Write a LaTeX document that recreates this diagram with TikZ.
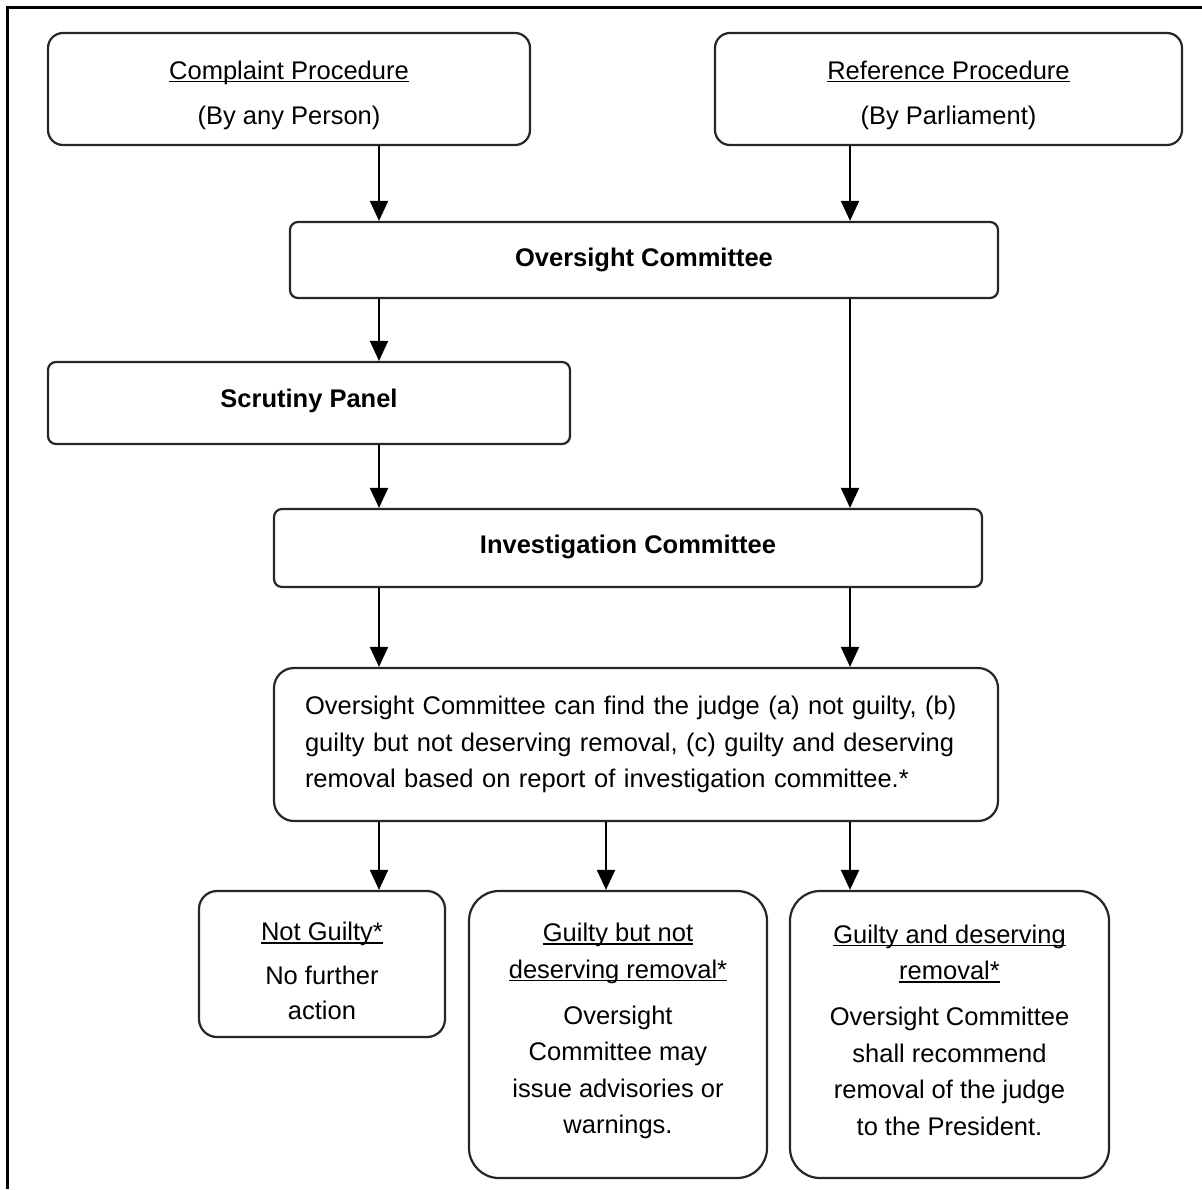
\documentclass[tikz,border=0pt]{standalone}
\usepackage{fontspec}
\setmainfont{Liberation Sans}
\usetikzlibrary{arrows.meta}
\newcommand\myul[1]{\setbox0\hbox{#1}\rlap{\rule[-1.6pt]{\wd0}{0.7pt}}\box0}
\begin{document}
\begin{tikzpicture}[x=0.5pt,y=-0.5pt,
  box/.style={draw=black!85,line width=1.1pt,inner sep=0pt},
  txt/.style={align=center,inner sep=0pt,font=\fontsize{12.75}{18.25}\selectfont},
  arr/.style={line width=1pt,-{Triangle[width=9pt,length=10pt]}},
]
\useasboundingbox (0,0) rectangle (1202,1189);
\draw[line width=1.5pt] (7,1189) -- (7,7) -- (1202,7);

\coordinate (xa) at (379,0);
\coordinate (xb) at (850,0);
\coordinate (xc) at (606,0);

% boxes
\node[box,rounded corners=7.5pt,minimum width=241pt,minimum height=56pt] (cp) at (289,89) {};
\node[box,rounded corners=7.5pt,minimum width=233.5pt,minimum height=56pt] (rp) at (948.5,89) {};
\node[box,rounded corners=4pt,minimum width=354pt,minimum height=38pt] (oc) at (644,260) {};
\node[box,rounded corners=4pt,minimum width=261pt,minimum height=41pt] (sp) at (309,403) {};
\node[box,rounded corners=4pt,minimum width=354pt,minimum height=39pt] (ic) at (628,548) {};
\node[box,rounded corners=10pt,minimum width=362pt,minimum height=76.5pt] (fb) at (636,744.5) {};
\node[box,rounded corners=9pt,minimum width=123pt,minimum height=73pt] (ng) at (322,964) {};
\node[box,rounded corners=15pt,minimum width=149pt,minimum height=143.5pt] (gn) at (618,1034.5) {};
\node[box,rounded corners=15pt,minimum width=159.5pt,minimum height=143.5pt] (gd) at (949.5,1034.5) {};

% texts
\node[txt] (cpt) at (289,95) {\myul{Complaint Procedure}\\[4.25pt](By any Person)};
\node[txt] (rpt) at (948.5,95) {\myul{Reference Procedure}\\[4.25pt](By Parliament)};
\node[txt,font=\fontsize{12.75}{18.25}\selectfont\bfseries] (oct) at (644,260) {Oversight Committee};
\node[txt,font=\fontsize{12.75}{18.25}\selectfont\bfseries] (spt) at (309,401) {Scrutiny Panel};
\node[txt,font=\fontsize{12.75}{18.25}\selectfont\bfseries] (ict) at (628,547) {Investigation Committee};
\node[txt,text width=331pt,align=left] (fbt) at (636,744.5)
  {Oversight Committee can find the judge (a) not guilty, (b)\\
   guilty but not deserving removal, (c) guilty and deserving\\
   removal based on report of investigation committee.*};
\node[txt] (ngt) at (322,971) {\myul{Not Guilty*}\\[3.75pt]No further\\[-0.5pt]action};
\node[txt] (gnt) at (618,1031) {\myul{Guilty but not}\\\myul{deserving removal*}\\[4.75pt]Oversight\\Committee may\\issue advisories or\\warnings.};
\node[txt] (gdt) at (949.5,1030) {\myul{Guilty and deserving}\\\myul{removal*}\\[4.75pt]Oversight Committee\\shall recommend\\removal of the judge\\to the President.};

% connectors
\draw[arr] (cp.south -| xa) -- (oc.north -| xa);
\draw[arr] (rp.south -| xb) -- (oc.north -| xb);
\draw[arr] (oc.south -| xa) -- (sp.north -| xa);
\draw[arr] (oc.south -| xb) -- (ic.north -| xb);
\draw[arr] (sp.south -| xa) -- (ic.north -| xa);
\draw[arr] (ic.south -| xa) -- (fb.north -| xa);
\draw[arr] (ic.south -| xb) -- (fb.north -| xb);
\draw[arr] (fb.south -| xa) -- (ng.north -| xa);
\draw[arr] (fb.south -| xc) -- (gn.north -| xc);
\draw[arr] (fb.south -| xb) -- (gd.north -| xb);
\end{tikzpicture}
\end{document}
